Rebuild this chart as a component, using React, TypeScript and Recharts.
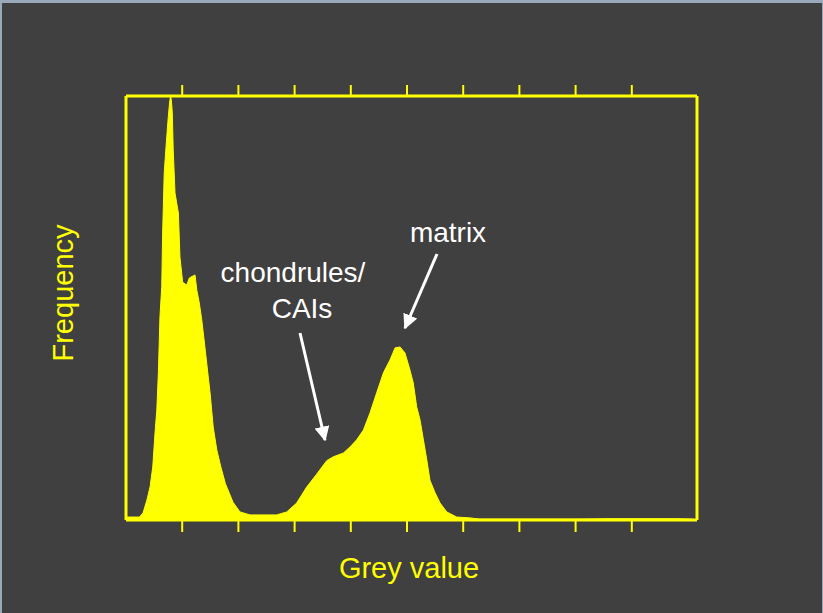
import { Area, AreaChart, XAxis, YAxis } from "recharts";

// grey value histogram
const greyValues = [
  0, 6, 7.6, 9.3, 10.7, 11.9, 12.9, 13.7, 14.4, 15.1, 15.9, 16.3, 17.0, 17.8,
  18.8, 19.4, 19.8, 20.2, 20.6, 21.0, 21.8, 23.3, 24.0, 25.2, 27.0, 28.2, 30.7,
  31.5, 32.6, 33.7, 35.1, 36.6, 37.4, 38.8, 40.4, 42.2, 44.2, 47.6, 50.7, 55.2,
  67.0, 71.5, 75.9, 80.4, 84.8, 89.3, 92.2, 96.7, 99.6, 102.6, 105.6, 108.5,
  111.5, 114.5, 116.7, 117.4, 119.7, 121.9, 124.1, 126.3, 127.8, 129.3, 130.8,
  132.3, 133.8, 135.2, 137.5, 139.7, 142.7, 147.1, 153.0, 157.5, 200, 215, 230,
  245, 252,
];
const frequency = [
  7, 7, 17, 47, 78, 125, 205, 259, 347, 479, 550, 677, 818, 880, 950, 985, 1000,
  990, 960, 873, 771, 724, 620, 561, 554, 571, 578, 542, 512, 472, 408, 337, 300,
  219, 165, 125, 86, 42, 19, 12, 12, 19, 40, 78, 108, 140, 149, 158, 172, 189,
  212, 252, 300, 347, 370, 377, 406, 408, 394, 354, 323, 267, 236, 189, 142, 94,
  64, 40, 19, 7, 5, 2, 2, 3, 3, 3, 2,
];
const xTicks = [25, 50, 75, 100, 125, 150, 175, 200, 225];

const data = greyValues.map((g, i) => ({ grey: g, freq: frequency[i] }));

const YELLOW = "#ffff00";
const font = "'Liberation Sans', Arial, sans-serif";
const noLabel = () => "";

export default function App() {
  return (
    <div
      style={{
        position: "absolute",
        left: 0,
        top: 0,
        width: 823,
        height: 613,
        background: "#404040",
        boxSizing: "border-box",
        borderTop: "3px solid #9aa9b9",
        borderLeft: "2px solid #9aa9b9",
        borderRight: "1px solid #9aa9b9",
        overflow: "hidden",
      }}
    >
      <div style={{ position: "absolute", left: -2, top: -3 }}>
        <AreaChart
          width={823}
          height={613}
          data={data}
          margin={{ top: 95, right: 125, bottom: 92, left: 125 }}
        >
          <XAxis
            dataKey="grey"
            type="number"
            domain={[0, 254]}
            ticks={xTicks}
            height={1}
            tickFormatter={noLabel}
            tickSize={12}
            axisLine={{ stroke: YELLOW, strokeWidth: 3 }}
            tickLine={{ stroke: YELLOW, strokeWidth: 2 }}
          />
          <XAxis
            xAxisId="top"
            orientation="top"
            dataKey="grey"
            type="number"
            domain={[0, 254]}
            ticks={xTicks}
            height={1}
            tickFormatter={noLabel}
            tickSize={11}
            axisLine={{ stroke: YELLOW, strokeWidth: 3 }}
            tickLine={{ stroke: YELLOW, strokeWidth: 2 }}
          />
          <YAxis
            domain={[0, 1000]}
            width={1}
            tick={false}
            tickLine={false}
            axisLine={{ stroke: YELLOW, strokeWidth: 3 }}
          />
          <YAxis
            yAxisId="right"
            orientation="right"
            domain={[0, 1000]}
            width={1}
            tick={false}
            tickLine={false}
            axisLine={{ stroke: YELLOW, strokeWidth: 3 }}
          />
          <Area
            dataKey="freq"
            type="linear"
            stroke={YELLOW}
            strokeWidth={1}
            fill={YELLOW}
            fillOpacity={1}
            isAnimationActive={false}
          />
        </AreaChart>
        <svg
          width={823}
          height={613}
          style={{ position: "absolute", left: 0, top: 0, pointerEvents: "none" }}
        >
          <defs>
            <marker
              id="head"
              viewBox="0 0 10 10"
              refX="9"
              refY="5"
              markerWidth="5"
              markerHeight="5"
              orient="auto"
            >
              <path d="M0,0 L10,5 L0,10 z" fill="#ffffff" />
            </marker>
          </defs>
          <text
            x={63}
            y={293}
            fill={YELLOW}
            fontFamily={font}
            fontSize={29}
            textAnchor="middle"
            dominantBaseline="central"
            transform="rotate(-90 63 293)"
          >
            Frequency
          </text>
          <text
            x={409}
            y={578}
            fill={YELLOW}
            fontFamily={font}
            fontSize={29}
            textAnchor="middle"
          >
            Grey value
          </text>
          <text x={448} y={242} fill="#ffffff" fontFamily={font} fontSize={28} textAnchor="middle">
            matrix
          </text>
          <text x={293} y={282} fill="#ffffff" fontFamily={font} fontSize={28} textAnchor="middle">
            chondrules/
          </text>
          <text x={302} y={318} fill="#ffffff" fontFamily={font} fontSize={28} textAnchor="middle">
            CAIs
          </text>
          <line
            x1={437}
            y1={254}
            x2={405}
            y2={328}
            stroke="#ffffff"
            strokeWidth={3}
            markerEnd="url(#head)"
          />
          <line
            x1={300}
            y1={333}
            x2={325}
            y2={440}
            stroke="#ffffff"
            strokeWidth={3}
            markerEnd="url(#head)"
          />
        </svg>
      </div>
    </div>
  );
}
